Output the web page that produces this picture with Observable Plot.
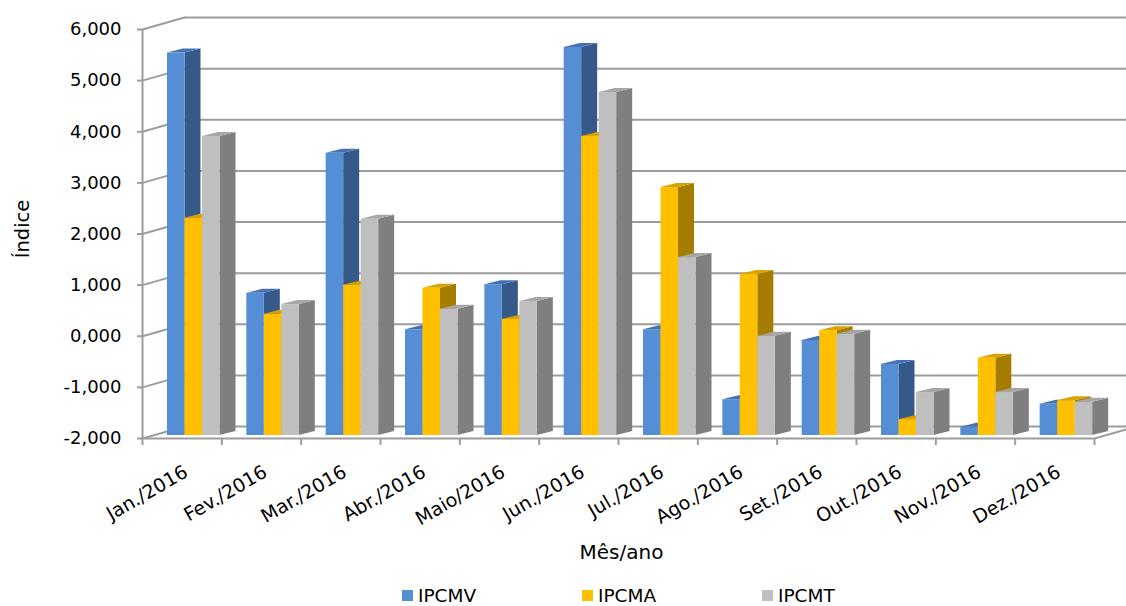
<!DOCTYPE html>
<html>
<head>
<meta charset="utf-8">
<script src="https://cdn.jsdelivr.net/npm/d3@7"></script>
<script src="https://cdn.jsdelivr.net/npm/@observablehq/plot@0.6"></script>
<style>
  html, body { margin: 0; padding: 0; background: #fff; overflow: hidden; }
  body { font-family: "DejaVu Sans", sans-serif; color: #000; }
  #chart svg { overflow: hidden; }
  #legend { display: flex; margin-left: 402px; height: 22px; align-items: center; font-size: 18.5px; }
  #legend .item { width: 180px; display: flex; align-items: center; }
  #legend .sw { width: 11px; height: 11px; margin-right: 5px; }
</style>
</head>
<body>
<div id="chart"></div>
<div id="legend"></div>
<script>
// Months of 2016 (category axis)
const months = ["Jan./2016", "Fev./2016", "Mar./2016", "Abr./2016", "Maio/2016", "Jun./2016",
                "Jul./2016", "Ago./2016", "Set./2016", "Out./2016", "Nov./2016", "Dez./2016"];

// Index values per month
const ipcmv = [5.48, 0.78, 3.52, 0.07, 0.95, 5.59, 0.07, -1.30, -0.14, -0.61, -1.84, -1.39];
const ipcma = [2.25, 0.37, 0.94, 0.88, 0.27, 3.85, 2.85, 1.15, 0.05, -1.69, -0.49, -1.32];
const ipcmt = [3.85, 0.56, 2.23, 0.47, 0.62, 4.71, 1.48, -0.06, -0.02, -1.16, -1.16, -1.35];

const seriesNames = ["IPCMV", "IPCMA", "IPCMT"];
const yTicks = [-2, -1, 0, 1, 2, 3, 4, 5, 6];

// Face colours: front, side, top
const palette = [
  {front: "#558ED5", side: "#355A8A", top: "#4572B2"},
  {front: "#FFC000", side: "#A67C00", top: "#D9A200"},
  {front: "#BFBFBF", side: "#7F7F7F", top: "#A6A6A6"}
];
const GRID = "#9c9c9c";

// Plot frame
const width = 1126, height = 584;
const marginLeft = 142, marginRight = 32, marginTop = 29, marginBottom = 146;
const pxX = (width - marginLeft - marginRight) / months.length;     // pixels per category
const pxY = (height - marginTop - marginBottom) / (yTicks.length - 1); // pixels per unit

// Pseudo-3D depth offsets, in data units
const WALL_X = 42 / pxX, WALL_Y = 12 / pxY;   // back wall
const BAR_X = 16 / pxX, BAR_Y = 4 / pxY;      // bar depth
const BAR_W = 17.5 / pxX;                      // bar width
const GROUP_OFF = 25 / pxX;                    // first bar offset inside a category
const BASE = -2;

const seriesValues = [ipcmv, ipcma, ipcmt];

const marks = [
  // back wall gridlines
  Plot.ruleY(yTicks, {y: d => d + WALL_Y, x1: WALL_X, x2: months.length + WALL_X, stroke: GRID, strokeWidth: 2}),
  // side wall gridlines
  Plot.link(yTicks, {x1: 0, y1: d => d, x2: WALL_X, y2: d => d + WALL_Y, stroke: GRID, strokeWidth: 2}),
  // floor edges
  Plot.link([BASE], {x1: months.length, y1: d => d, x2: months.length + WALL_X, y2: d => d + WALL_Y, stroke: GRID, strokeWidth: 2}),
  Plot.ruleY([BASE], {x1: 0, x2: months.length, stroke: GRID, strokeWidth: 2}),
  // value axis line
  Plot.ruleX([0], {y1: BASE, y2: 6, stroke: GRID, strokeWidth: 2}),
  // category tick marks
  Plot.ruleX(d3.range(months.length + 1), {y1: BASE, y2: BASE - 7 / pxY, stroke: GRID, strokeWidth: 2})
];

seriesValues.forEach((values, k) => {
  const c = palette[k];
  const bars = values.map((v, i) => {
    const xl = i + GROUP_OFF + k * BAR_W;
    return {id: i, v, xl, xr: xl + BAR_W};
  });
  const sides = bars.flatMap(b => [
    {id: b.id, x: b.xr, lo: BASE, hi: b.v},
    {id: b.id, x: b.xr + BAR_X, lo: BASE + BAR_Y, hi: b.v + BAR_Y}
  ]);
  const tops = bars.flatMap(b => [
    {id: b.id, y: b.v, l: b.xl, r: b.xr},
    {id: b.id, y: b.v + BAR_Y, l: b.xl + BAR_X, r: b.xr + BAR_X}
  ]);
  marks.push(
    Plot.area(sides, {x1: "x", y1: "lo", y2: "hi", z: "id", fill: c.side, dy: -3}),
    Plot.area(tops, {x1: "l", x2: "r", y1: "y", z: "id", fill: c.top, dy: -3}),
    Plot.rect(bars, {x1: "xl", x2: "xr", y1: BASE, y2: "v", fill: c.front, dy: -3})
  );
});

marks.push(
  Plot.axisY({
    ticks: yTicks,
    tickFormat: d => d.toFixed(3).replace(".", ","),
    tickSize: 5, tickPadding: 16,
    stroke: GRID, strokeWidth: 2, fill: "#000",
    fontSize: 18, label: null
  }),
  Plot.text(months, {
    x: (d, i) => i + 0.5, y: BASE, text: d => d,
    rotate: -30, textAnchor: "end", lineAnchor: "middle",
    dx: 4, dy: 32, fontSize: 19, fill: "#000"
  }),
  Plot.text(["Índice"], {frameAnchor: "left", rotate: -90, textAnchor: "middle", lineAnchor: "middle",
    dx: -120, dy: -5, fontSize: 19.5, fill: "#000"}),
  Plot.text(["Mês/ano"], {frameAnchor: "bottom", textAnchor: "middle", lineAnchor: "middle",
    dx: 3, dy: 114, fontSize: 20, fill: "#000"})
);

const chart = Plot.plot({
  width, height, marginLeft, marginRight, marginTop, marginBottom,
  style: {fontFamily: "'DejaVu Sans', sans-serif", background: "#fff", color: "#000"},
  x: {domain: [0, months.length], axis: null},
  y: {domain: [BASE, 6], axis: null},
  marks
});
document.getElementById("chart").appendChild(chart);

// Legend
const legend = document.getElementById("legend");
seriesNames.forEach((name, k) => {
  const item = document.createElement("div");
  item.className = "item";
  const sw = document.createElement("span");
  sw.className = "sw";
  sw.style.background = palette[k].front;
  const label = document.createElement("span");
  label.textContent = name;
  item.append(sw, label);
  legend.appendChild(item);
});
</script>
</body>
</html>
